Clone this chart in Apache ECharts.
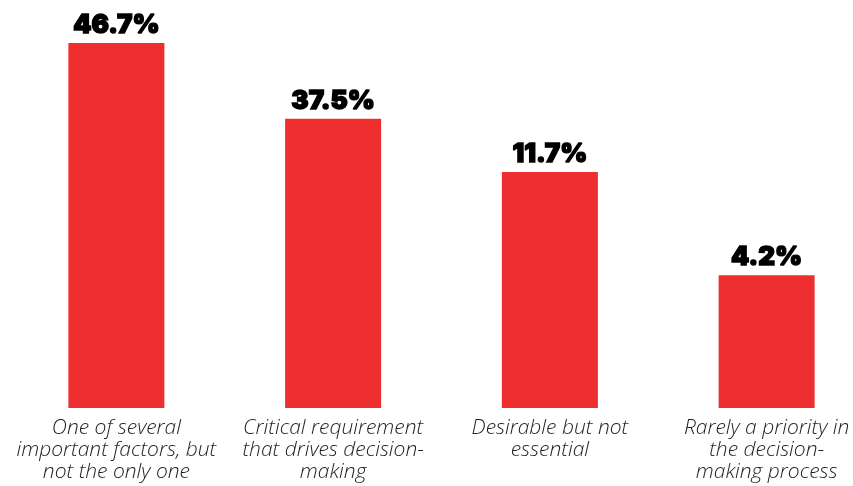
<!DOCTYPE html>
<html>
<head>
<meta charset="utf-8">
<script src="https://cdn.jsdelivr.net/npm/echarts@6/dist/echarts.min.js"></script>
<style>
  html, body { margin: 0; padding: 0; background: #ffffff; }
  #chart { width: 853px; height: 486px; }
</style>
</head>
<body>
<div id="chart"></div>
<script>
// Category labels (line breaks as in the reference)
const categories = [
  'One of several\nimportant factors, but\nnot the only one',
  'Critical requirement\nthat drives decision-\nmaking',
  'Desirable but not\nessential',
  'Rarely a priority in\nthe decision-\nmaking process'
];
// Percentages printed above the bars
const shownValues = [46.7, 37.5, 11.7, 4.2];
// Bar heights as drawn in the reference (on the same % scale as the top bar)
const barHeights = [46.7, 37.0, 30.2, 17.0];

const chart = echarts.init(document.getElementById('chart'), null, { renderer: 'canvas' });

chart.setOption({
  backgroundColor: '#ffffff',
  animation: false,
  grid: { left: 8, width: 867, top: 43, bottom: 78, containLabel: false, outerBoundsMode: 'none' },
  xAxis: {
    type: 'category',
    data: categories,
    axisLine: { show: false },
    axisTick: { show: false },
    axisLabel: {
      interval: 0,
      margin: 9,
      fontFamily: 'Open Sans',
      fontStyle: 'italic',
      fontWeight: 300,
      fontSize: 21,
      lineHeight: 22,
      color: '#1e1e1e',
      align: 'center'
    }
  },
  yAxis: {
    type: 'value',
    min: 0,
    max: 46.7,
    show: false,
    splitLine: { show: false }
  },
  series: [{
    type: 'bar',
    data: barHeights,
    barWidth: 96,
    itemStyle: { color: '#ee2e2f' },
    label: {
      show: true,
      position: 'top',
      distance: 4,
      fontFamily: 'Inter',
      fontWeight: 900,
      fontSize: 26,
      lineHeight: 27,
      color: '#000000',
      textBorderColor: '#000000',
      textBorderWidth: 1.4,
      formatter: function (p) { return shownValues[p.dataIndex].toFixed(1) + '%'; }
    }
  }]
});
</script>
</body>
</html>
